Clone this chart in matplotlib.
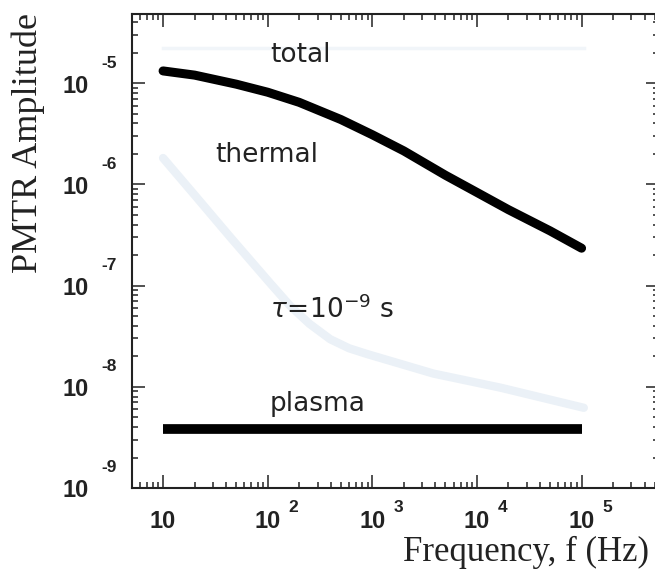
import matplotlib
matplotlib.use("Agg")
import matplotlib.pyplot as plt
from matplotlib.ticker import LogLocator, NullFormatter

# total response (thick black curve)
freq_total = [10, 20, 50, 100, 200, 500, 1e3, 2e3, 5e3, 1e4, 2e4, 5e4, 1e5]
amp_total = [1.32e-5, 1.20e-5, 9.77e-6, 8.13e-6, 6.46e-6, 4.37e-6, 3.09e-6,
             2.14e-6, 1.23e-6, 8.32e-7, 5.62e-7, 3.47e-7, 2.34e-7]

# plasma component (flat)
freq_plasma = [10, 1e5]
amp_plasma = [3.85e-9, 3.85e-9]

# faint show-through from the other side of the page
freq_ghost = [10, 21, 44, 106, 164, 250, 396, 600, 900, 3840, 16800, 1.05e5]
amp_ghost = [1.82e-6, 7.4e-7, 3.0e-7, 1.05e-7, 6.3e-8, 4.2e-8, 2.95e-8, 2.4e-8,
             2.1e-8, 1.35e-8, 9.8e-9, 6.2e-9]
freq_ghost_line = [10, 1.05e5]
amp_ghost_line = [2.2e-5, 2.2e-5]

x_decades = [1, 2, 3, 4, 5]
y_decades = [-5, -6, -7, -8, -9]

plt.rcParams["mathtext.fontset"] = "dejavusans"

fig = plt.figure(figsize=(6.55, 5.69), dpi=100)
ax = fig.add_axes([132 / 655, 81 / 569, 527 / 655, 474 / 569])
ax.set_xscale("log")
ax.set_yscale("log")
ax.set_xlim(10 ** 0.703, 10 ** 5.74)
ax.set_ylim(1e-9, 10 ** -4.317)

ax.plot(freq_ghost, amp_ghost, color="#ebf1f7", lw=6, solid_capstyle="round",
        solid_joinstyle="round", zorder=1)
ax.plot(freq_ghost_line, amp_ghost_line, color="#f1f5f9", lw=2.5, zorder=1)

ax.plot(freq_total, amp_total, color="black", lw=6.5, solid_capstyle="round",
        solid_joinstyle="round", zorder=3)
ax.plot(freq_plasma, amp_plasma, color="black", lw=7, solid_capstyle="butt", zorder=3)

txt = dict(fontsize=19, family="DejaVu Sans", color="#222222")
ax.text(105, 10 ** -4.79, "total", ha="left", va="baseline", **txt)
ax.text(31.5, 10 ** -5.78, "thermal", ha="left", va="baseline", **txt)
ax.text(105, 10 ** -7.32, r"$\tau\!=\!10^{-9}$ s", ha="left", va="baseline", **txt)
ax.text(105, 10 ** -8.24, "plasma", ha="left", va="baseline", **txt)

ax.xaxis.set_major_locator(LogLocator(base=10, numticks=20))
ax.xaxis.set_minor_locator(LogLocator(base=10, subs=range(2, 10), numticks=20))
ax.yaxis.set_major_locator(LogLocator(base=10, numticks=20))
ax.yaxis.set_minor_locator(LogLocator(base=10, subs=range(2, 10), numticks=20))
ax.xaxis.set_major_formatter(NullFormatter())
ax.xaxis.set_minor_formatter(NullFormatter())
ax.yaxis.set_major_formatter(NullFormatter())
ax.yaxis.set_minor_formatter(NullFormatter())
ax.tick_params(which="both", direction="in", top=True, right=True, width=1.1, color="#222222")
ax.tick_params(which="major", length=9.5)
ax.tick_params(which="minor", length=4.5)
for sp in ax.spines.values():
    sp.set_linewidth(1.5)
    sp.set_color("#222222")

lab = dict(family="Liberation Sans", fontweight="bold", color="#222222")
for d in x_decades:
    ax.annotate("10", xy=(10.0 ** d, 0), xycoords=("data", "axes fraction"),
                xytext=(0, -34), textcoords="offset pixels",
                ha="center", va="center", fontsize=17, **lab)
    if d > 1:
        ax.annotate(str(d), xy=(10.0 ** d, 0), xycoords=("data", "axes fraction"),
                    xytext=(26, -20), textcoords="offset pixels",
                    ha="center", va="center", fontsize=12.5, **lab)
for d in y_decades:
    ax.annotate("10", xy=(0, 10.0 ** d), xycoords=("axes fraction", "data"),
                xytext=(-56, -3), textcoords="offset pixels",
                ha="center", va="center", fontsize=17, **lab)
    ax.annotate(str(d), xy=(0, 10.0 ** d), xycoords=("axes fraction", "data"),
                xytext=(-23, 20), textcoords="offset pixels",
                ha="center", va="center", fontsize=12.5, **lab)

fig.text(28 / 655, 1 - 143 / 569, "PMTR Amplitude", rotation=90,
         ha="center", va="center", fontsize=26, family="Liberation Serif", color="#222222")
fig.text(526 / 655, 1 - 552 / 569, "Frequency, f (Hz)",
         ha="center", va="center", fontsize=25, family="Liberation Serif", color="#222222")

fig.savefig("out.png", dpi=100)
